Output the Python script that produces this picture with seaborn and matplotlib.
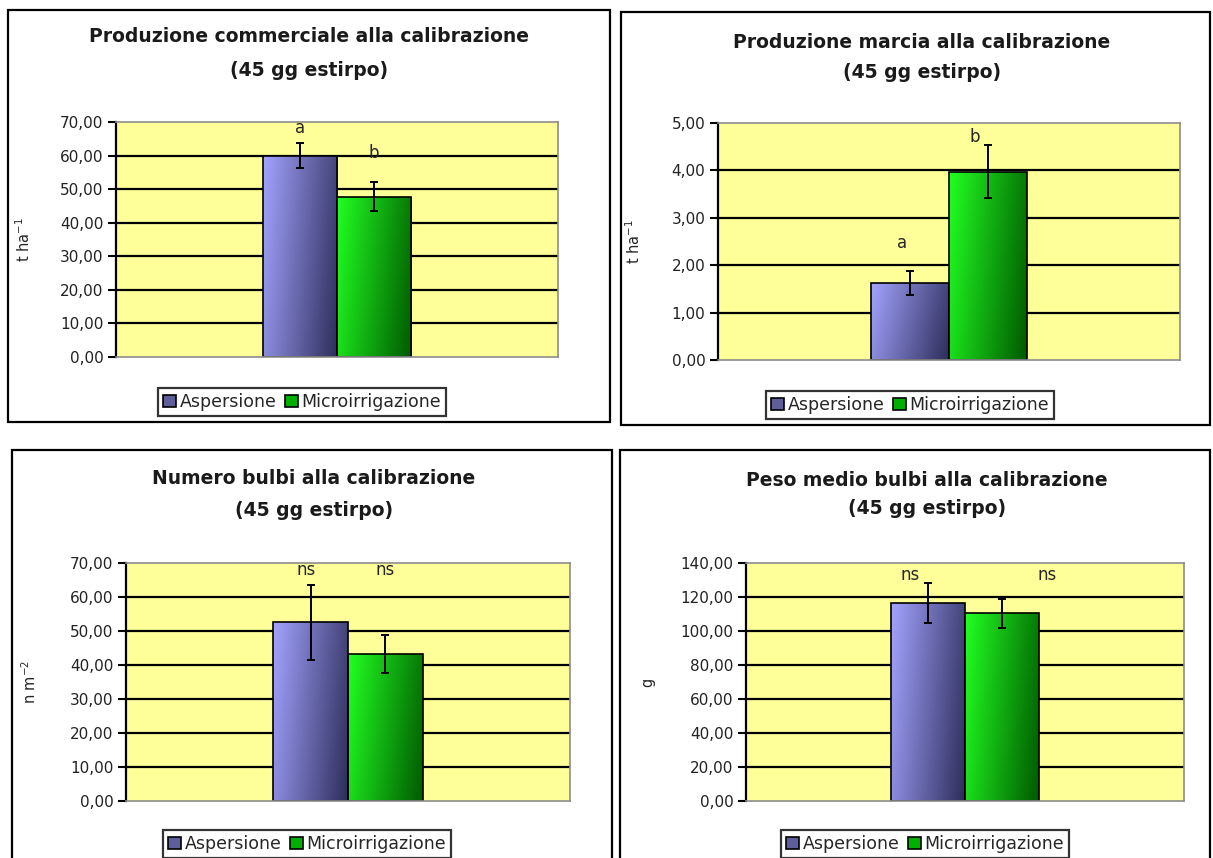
import numpy as np
import pandas as pd
import seaborn as sns
import matplotlib.pyplot as plt
from matplotlib.patches import Rectangle, Patch
from matplotlib.colors import LinearSegmentedColormap
from matplotlib.ticker import FuncFormatter

# dati
trattamenti = ["Aspersione", "Microirrigazione"]
titoli = ["Produzione commerciale alla calibrazione",
          "Produzione marcia alla calibrazione",
          "Numero bulbi alla calibrazione",
          "Peso medio bulbi alla calibrazione"]
sottotitolo = "(45 gg estirpo)"
unita = ["t ha$^{-1}$", "t ha$^{-1}$", "n m$^{-2}$", "g"]

comm_media = [60.0, 47.8]
comm_err = [3.7, 4.4]
comm_lettere = ["a", "b"]

marcia_media = [1.63, 3.97]
marcia_err = [0.25, 0.56]
marcia_lettere = ["a", "b"]

numero_media = [52.6, 43.2]
numero_err = [11.0, 5.5]
numero_lettere = ["ns", "ns"]

peso_media = [116.5, 110.3]
peso_err = [11.8, 8.3]
peso_lettere = ["ns", "ns"]

y_max = [70, 5, 70, 140]
y_passo = [10, 1, 10, 20]

# layout (pixel del riferimento 1213x858)
W, H = 1213, 858
assi_px = [(116, 122, 558, 357), (718, 123, 1180, 360),
           (126, 563, 570, 801), (746, 563, 1184, 801)]
cornici_px = [(8, 10, 610, 422), (621, 12, 1210, 425),
              (12, 450, 612, 875), (620, 450, 1210, 875)]
titoli_px = [(309, 37, 70), (922, 42, 72), (314, 478, 510), (927, 480, 508)]
legenda_px = [(302, 402), (910, 405), (307, 844), (925, 844)]
ylab_x = [-0.188, -0.162, -0.196, -0.208]
lettere_y = [[68.2, 60.7], [2.47, 4.71], [68, 68], [133, 133]]
lettere_dx = [[0, 0], [-0.017, -0.028], [-0.009, 0], [-0.041, 0.103]]

col_chiaro = ["#A3A3FF", "#22FF22"]
col_scuro = ["#2E2E5C", "#005A00"]
col_legenda = ["#5E5E9A", "#00B000"]

sns.set_style("white")
plt.rcParams['font.family'] = ['DejaVu Sans']

fig = plt.figure(figsize=(W / 100, H / 100), dpi=100)

pannelli = [
    (comm_media, comm_err, comm_lettere),
    (marcia_media, marcia_err, marcia_lettere),
    (numero_media, numero_err, numero_lettere),
    (peso_media, peso_err, peso_lettere),
]


def sfuma(ax, patch, c1, c2):
    x, y = patch.get_x(), patch.get_y()
    w, h = patch.get_width(), patch.get_height()
    cmap = LinearSegmentedColormap.from_list("sf", [c1, c2])
    gx = np.linspace(0, 1, 80)
    gy = np.linspace(0, 1, 80)
    grad = 0.8 * gx[None, :] + 0.2 * (1 - gy[:, None])
    im = ax.imshow(grad, cmap=cmap, vmin=0, vmax=1, origin="lower",
                   extent=[x, x + w, y, y + h], aspect="auto", zorder=0.9)
    im.set_clip_path(patch)
    patch.set_facecolor("none")
    patch.set_zorder(1)


for k, (media, err, lettere) in enumerate(pannelli):
    # cornice del pannello
    x0, y0, x1, y1 = cornici_px[k]
    fig.add_artist(Rectangle((x0 / W, 1 - y1 / H), (x1 - x0) / W, (y1 - y0) / H,
                             transform=fig.transFigure, fill=False,
                             edgecolor="black", linewidth=1.6))

    l, t, r, b = assi_px[k]
    ax = fig.add_axes([l / W, 1 - b / H, (r - l) / W, (b - t) / H])
    ax.set_facecolor("#FFFF99")

    df = pd.DataFrame({"gruppo": [""] * len(trattamenti),
                       "Trattamento": trattamenti,
                       "valore": media})
    sns.barplot(data=df, x="gruppo", y="valore", hue="Trattamento",
                hue_order=trattamenti, palette=col_legenda, width=0.337,
                edgecolor="black", linewidth=1.2, errorbar=None,
                legend=False, ax=ax)

    ax.set_xlim(-0.5, 0.5)
    ax.set_ylim(0, y_max[k])
    tick = np.arange(0, y_max[k] + y_passo[k] / 2, y_passo[k])
    ax.set_yticks(tick)
    for v in tick[1:-1]:
        ax.axhline(v, color="black", linewidth=1.6, zorder=0.5)

    barre = list(ax.patches)
    for i, p in enumerate(barre):
        sfuma(ax, p, col_chiaro[i], col_scuro[i])
        cx = p.get_x() + p.get_width() / 2
        ax.errorbar(cx, media[i], yerr=err[i], fmt="none", ecolor="black",
                    elinewidth=1.4, capsize=3, capthick=1.4, zorder=3)
        ax.text(cx + lettere_dx[k][i], lettere_y[k][i], lettere[i],
                ha="center", va="center", fontsize=12, zorder=4)
    ax.set_xlim(-0.5, 0.5)
    ax.set_ylim(0, y_max[k])

    ax.yaxis.set_major_formatter(FuncFormatter(lambda v, pos: f"{v:.2f}".replace(".", ",")))
    ax.tick_params(axis="y", direction="out", length=6, width=1.5,
                   color="black", labelsize=11, labelcolor="#222222", pad=3, left=True)
    ax.tick_params(axis="x", bottom=False, labelbottom=False)
    ax.set_xlabel("")
    ax.set_ylabel(unita[k], fontsize=10.5)
    ax.yaxis.set_label_coords(ylab_x[k], 0.5)
    for s in ["top", "right", "bottom"]:
        ax.spines[s].set_color("#8C8C8C")
        ax.spines[s].set_linewidth(1.2)
    ax.spines["left"].set_color("black")
    ax.spines["left"].set_linewidth(1.6)

    # titolo su due righe
    tx, ty1, ty2 = titoli_px[k]
    fig.text(tx / W, 1 - ty1 / H, titoli[k], ha="center", va="center",
             fontsize=13.5, fontweight="bold", color="#1a1a1a")
    fig.text(tx / W, 1 - ty2 / H, sottotitolo, ha="center", va="center",
             fontsize=13.5, fontweight="bold", color="#1a1a1a")

    # legenda sotto il grafico
    maniglie = [Patch(facecolor=col_legenda[i], edgecolor="black", linewidth=1.2)
                for i in range(len(trattamenti))]
    lx, ly = legenda_px[k]
    leg = fig.legend(maniglie, trattamenti, loc="center",
                     bbox_to_anchor=(lx / W, 1 - ly / H), ncol=2,
                     frameon=True, fancybox=False, edgecolor="black",
                     fontsize=12.5, handlelength=0.75, handleheight=0.75,
                     handletextpad=0.2, columnspacing=0.5, borderpad=0.3,
                     borderaxespad=0)
    leg.get_frame().set_linewidth(1.6)

fig.savefig("out.png", dpi=100, facecolor="white")
